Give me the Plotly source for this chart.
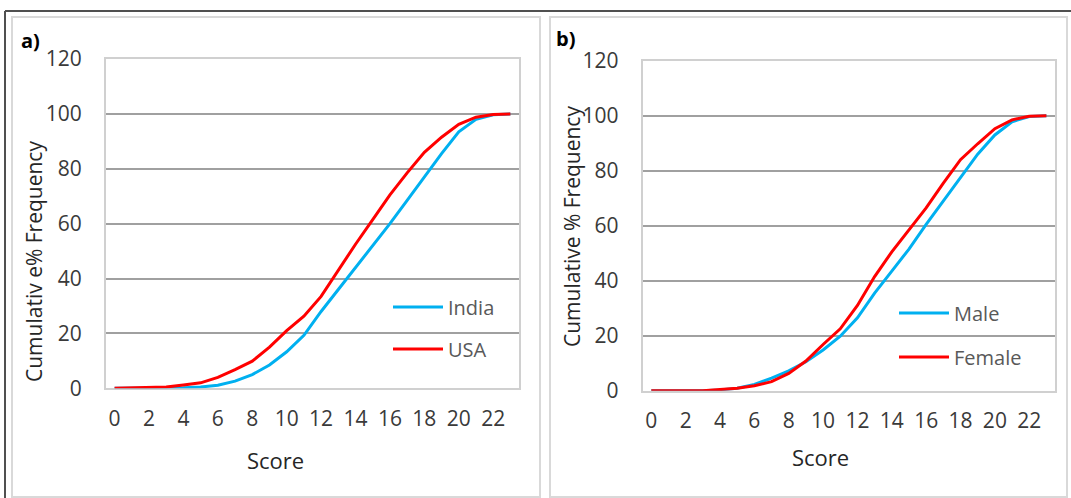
import plotly.graph_objects as go

# Score categories (0..23) and cumulative % frequency per group
scores = list(range(24))
india = [0, 0, 0, 0.1, 0.2, 0.5, 1.1, 2.6, 5.0, 8.5, 13.3, 19.3, 28.0, 36.0,
         44.0, 52.0, 60.0, 68.5, 77.0, 85.5, 93.5, 98.0, 99.7, 100]
usa = [0, 0.1, 0.3, 0.5, 1.2, 2.0, 4.0, 6.8, 9.9, 15.0, 21.0, 26.3, 33.5, 43.0,
       52.5, 61.5, 70.5, 78.5, 86.0, 91.5, 96.2, 98.8, 99.8, 100]
male = [0, 0, 0, 0, 0.3, 0.9, 2.3, 4.6, 7.2, 10.5, 14.8, 19.8, 26.5, 35.5,
        43.5, 51.5, 60.5, 69.0, 77.5, 86.0, 93.0, 97.8, 99.7, 100]
female = [0, 0, 0, 0, 0.4, 0.9, 1.8, 3.3, 6.3, 10.8, 16.8, 22.5, 31.0, 41.5,
          50.5, 58.5, 66.5, 75.5, 84.0, 89.8, 95.3, 98.5, 99.8, 100]
x_ticks = list(range(0, 23, 2))
y_ticks = list(range(0, 121, 20))

W, H = 1071, 498
BLUE, RED = "#00B0F0", "#FF0000"
FONT = "Open Sans"
TICK_COLOR = "#3A3A3A"


def px(x):
    return x / W


def py(y):
    return 1 - y / H


fig = go.Figure()
fig.add_trace(go.Scatter(x=scores, y=india, name="India", mode="lines",
                         line=dict(color=BLUE, width=3), xaxis="x", yaxis="y",
                         legend="legend", legendgroup="a1"))
fig.add_trace(go.Scatter(x=scores, y=usa, name="USA", mode="lines",
                         line=dict(color=RED, width=3), xaxis="x", yaxis="y",
                         legend="legend", legendgroup="a2"))
fig.add_trace(go.Scatter(x=scores, y=male, name="Male", mode="lines",
                         line=dict(color=BLUE, width=3), xaxis="x2", yaxis="y2",
                         legend="legend2", legendgroup="b1"))
fig.add_trace(go.Scatter(x=scores, y=female, name="Female", mode="lines",
                         line=dict(color=RED, width=3), xaxis="x2", yaxis="y2",
                         legend="legend2", legendgroup="b2"))

xaxis_common = dict(range=[-0.5, 23.5], tickvals=x_ticks, showgrid=False,
                    zeroline=False, showline=True, mirror=True,
                    linecolor="#D0D0D0", linewidth=2, ticks="",
                    ticklabelstandoff=10, layer="below traces",
                    automargin=False, fixedrange=True,
                    tickfont=dict(family=FONT, size=21, color=TICK_COLOR))
yaxis_common = dict(range=[0, 120], tickvals=y_ticks, showgrid=True,
                    gridcolor="#A0A0A0", gridwidth=1.6, zeroline=False,
                    showline=True, mirror=True, linecolor="#D0D0D0",
                    linewidth=2, ticks="", ticklabelstandoff=18,
                    layer="below traces", automargin=False, fixedrange=True,
                    tickfont=dict(family=FONT, size=21, color=TICK_COLOR))

legend_common = dict(bgcolor="rgba(0,0,0,0)", borderwidth=0,
                     traceorder="grouped", itemwidth=50,
                     xanchor="left", yanchor="top",
                     font=dict(family=FONT, size=20, color="#595959"))

fig.update_layout(
    template="none",
    width=W, height=H,
    margin=dict(l=0, r=0, t=0, b=0, pad=0, autoexpand=False),
    paper_bgcolor="white", plot_bgcolor="white",
    showlegend=True,
    xaxis=dict(domain=[px(106), px(519)], anchor="y", **xaxis_common),
    yaxis=dict(domain=[py(388.3), py(59)], anchor="x", **yaxis_common),
    xaxis2=dict(domain=[px(642.7), px(1055)], anchor="y2", **xaxis_common),
    yaxis2=dict(domain=[py(390.7), py(60.7)], anchor="x2", **yaxis_common),
    legend=dict(x=px(388), y=py(287.5), tracegroupgap=13, **legend_common),
    legend2=dict(x=px(894), y=py(293.5), tracegroupgap=15, **legend_common),
)

# Panel frames
frame_shapes = [
    dict(type="line", x0=px(5), x1=px(1071), y0=py(11), y1=py(11),
         line=dict(color="#505050", width=2)),
    dict(type="line", x0=px(5), x1=px(5), y0=py(11), y1=py(498),
         line=dict(color="#505050", width=2)),
    dict(type="rect", x0=px(12), x1=px(540), y0=py(17), y1=py(497),
         line=dict(color="#D9D9D9", width=2)),
    dict(type="rect", x0=px(550), x1=px(1067), y0=py(17), y1=py(497),
         line=dict(color="#D9D9D9", width=2)),
]
for s in frame_shapes:
    s.update(xref="paper", yref="paper", layer="below")
fig.update_layout(shapes=frame_shapes)

# Panel labels and axis titles
texts = [
    dict(text="<b>a)</b>", x=px(30), y=py(40), size=20, color="black", angle=0),
    dict(text="<b>b)</b>", x=px(565.5), y=py(39), size=20, color="black", angle=0),
    dict(text="Cumulativ e% Frequency", x=px(34), y=py(262), size=21,
         color="#262626", angle=-90),
    dict(text="Cumulative % Frequency", x=px(572), y=py(227), size=21,
         color="#262626", angle=-90),
    dict(text="Score", x=px(275), y=py(460), size=22, color="#262626", angle=0),
    dict(text="Score", x=px(820), y=py(457), size=22, color="#262626", angle=0),
]
for t in texts:
    fig.add_annotation(text=t["text"], x=t["x"], y=t["y"], xref="paper",
                       yref="paper", xanchor="center", yanchor="middle",
                       showarrow=False, textangle=t["angle"],
                       font=dict(family=FONT, size=t["size"], color=t["color"]))

fig.write_html("out.html", config={"displayModeBar": False})
